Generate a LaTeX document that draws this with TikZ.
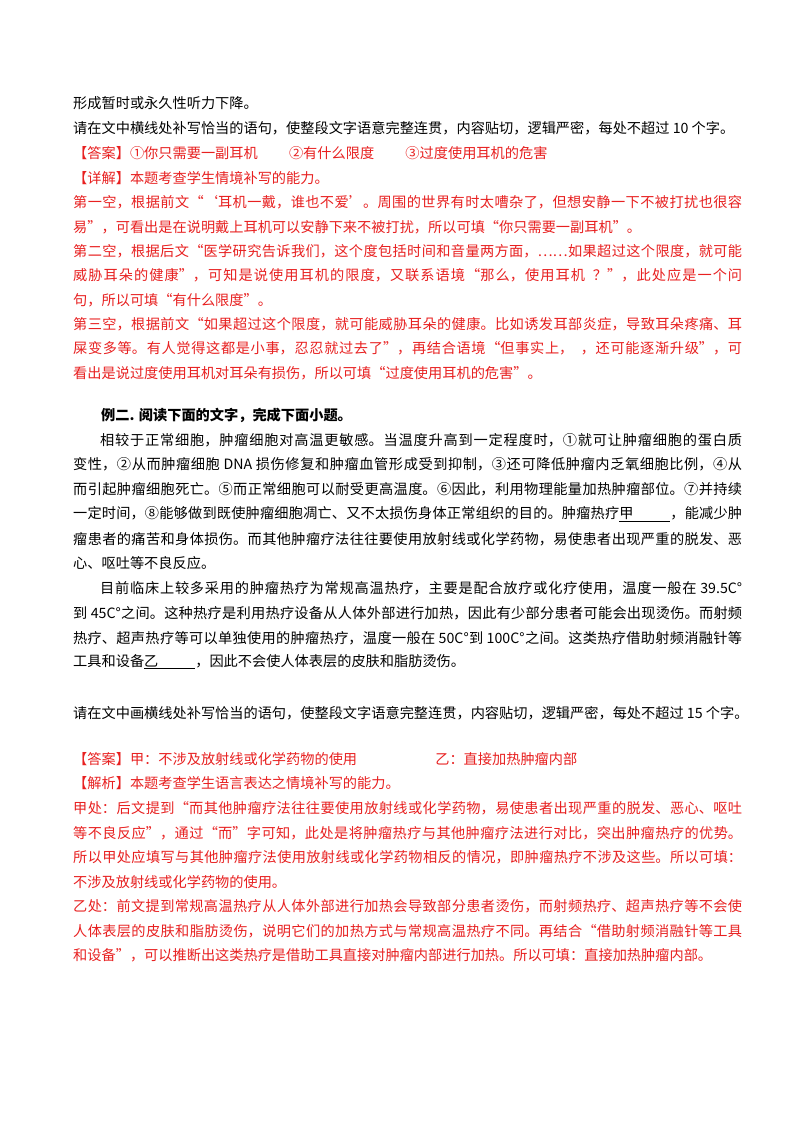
\documentclass[tikz,border=0pt]{standalone}
\usepackage{fontspec}
\setmainfont{Noto Sans CJK SC}
\newfontfamily\cjkb[BoldFont={* Bold}]{Noto Sans CJK SC}
\XeTeXlinebreaklocale "zh"
\XeTeXlinebreakskip=0pt plus 2pt
\definecolor{ansred}{RGB}{232,32,32}
\newcommand\fullline[1]{\parbox{669pt}{\parfillskip=0pt\relax #1}}
\newcommand\fullind[1]{\parbox{642pt}{\parfillskip=0pt\relax #1}}
\newcommand\blank[1]{\underline{#1\hspace{2.6em}}}
\tikzset{ln/.style={anchor=west,inner sep=0pt,font=\fontsize{14.2pt}{16pt}\selectfont},
  rd/.style={ln,text=ansred},
  bk/.style={ln,text=black}}
\begin{document}
\begin{tikzpicture}[x=1pt,y=-1pt]
\useasboundingbox[fill=white] (0,0) rectangle (800,1132);
\node[bk] (l1) at (73,103) {形成暂时或永久性听力下降。};
\node[bk] (l2) at (73,128) {请在文中横线处补写恰当的语句，使整段文字语意完整连贯，内容贴切，逻辑严密，每处不超过 10 个字。};
\node[rd] (l3) at (73,153) {【答案】①你只需要一副耳机\hspace{2.2em}②有什么限度\hspace{2.2em}③过度使用耳机的危害};
\node[rd] (l4) at (73,178) {【详解】本题考查学生情境补写的能力。};
\node[rd] (l5) at (73,202) {\fullline{第一空，根据前文“‘耳机一戴，谁也不爱’。周围的世界有时太嘈杂了，但想安静一下不被打扰也很容}};
\node[rd] (l6) at (73,227) {易”，可看出是在说明戴上耳机可以安静下来不被打扰，所以可填“你只需要一副耳机”。};
\node[rd] (l7) at (73,251) {\fullline{第二空，根据后文“医学研究告诉我们，这个度包括时间和音量两方面，……如果超过这个限度，就可能}};
\node[rd] (l8) at (73,275) {\fullline{威胁耳朵的健康”，可知是说使用耳机的限度，又联系语境“那么，使用耳机\ \ ？”，此处应是一个问}};
\node[rd] (l9) at (73,300) {句，所以可填“有什么限度”。};
\node[rd] (l10) at (73,324) {\fullline{第三空，根据前文“如果超过这个限度，就可能威胁耳朵的健康。比如诱发耳部炎症，导致耳朵疼痛、耳}};
\node[rd] (l11) at (73,348) {\fullline{屎变多等。有人觉得这都是小事，忍忍就过去了”，再结合语境“但事实上，\ \ ，还可能逐渐升级”，可}};
\node[rd] (l12) at (73,373) {看出是说过度使用耳机对耳朵有损伤，所以可填“过度使用耳机的危害”。};
\node[bk,font=\fontsize{14.2pt}{16pt}\selectfont\bfseries] (l13) at (101,415) {例二. 阅读下面的文字，完成下面小题。};
\node[bk] (l14) at (100,440) {\fullind{相较于正常细胞，肿瘤细胞对高温更敏感。当温度升高到一定程度时，①就可让肿瘤细胞的蛋白质}};
\node[bk] (l15) at (73,464) {\fullline{变性，②从而肿瘤细胞 DNA 损伤修复和肿瘤血管形成受到抑制，③还可降低肿瘤内乏氧细胞比例，④从}};
\node[bk] (l16) at (73,489) {\fullline{而引起肿瘤细胞死亡。⑤而正常细胞可以耐受更高温度。⑥因此，利用物理能量加热肿瘤部位。⑦并持续}};
\node[bk] (l17) at (73,514) {\fullline{一定时间，⑧能够做到既使肿瘤细胞凋亡、又不太损伤身体正常组织的目的。肿瘤热疗\blank{甲}，能减少肿}};
\node[bk] (l18) at (73,539) {\fullline{瘤患者的痛苦和身体损伤。而其他肿瘤疗法往往要使用放射线或化学药物，易使患者出现严重的脱发、恶}};
\node[bk] (l19) at (73,563) {心、呕吐等不良反应。};
\node[bk] (l20) at (100,588) {\fullind{目前临床上较多采用的肿瘤热疗为常规高温热疗，主要是配合放疗或化疗使用，温度一般在 39.5C°}};
\node[bk] (l21) at (73,613) {\fullline{到 45C°之间。这种热疗是利用热疗设备从人体外部进行加热，因此有少部分患者可能会出现烫伤。而射频}};
\node[bk] (l22) at (73,638) {\fullline{热疗、超声热疗等可以单独使用的肿瘤热疗，温度一般在 50C°到 100C°之间。这类热疗借助射频消融针等}};
\node[bk] (l23) at (73,662) {工具和设备\blank{乙}，因此不会使人体表层的皮肤和脂肪烫伤。};
\node[bk] (l24) at (73,713) {请在文中画横线处补写恰当的语句，使整段文字语意完整连贯，内容贴切，逻辑严密，每处不超过 15 个字。};
\node[rd] (l25) at (73,759) {【答案】甲：不涉及放射线或化学药物的使用\hspace{5.5em}乙：直接加热肿瘤内部};
\node[rd] (l26) at (73,783) {【解析】本题考查学生语言表达之情境补写的能力。};
\node[rd] (l27) at (73,808) {\fullline{甲处：后文提到“而其他肿瘤疗法往往要使用放射线或化学药物，易使患者出现严重的脱发、恶心、呕吐}};
\node[rd] (l28) at (73,833) {\fullline{等不良反应”，通过“而”字可知，此处是将肿瘤热疗与其他肿瘤疗法进行对比，突出肿瘤热疗的优势。}};
\node[rd] (l29) at (73,857) {\fullline{所以甲处应填写与其他肿瘤疗法使用放射线或化学药物相反的情况，即肿瘤热疗不涉及这些。所以可填：}};
\node[rd] (l30) at (73,882) {不涉及放射线或化学药物的使用。};
\node[rd] (l31) at (73,906) {\fullline{乙处：前文提到常规高温热疗从人体外部进行加热会导致部分患者烫伤，而射频热疗、超声热疗等不会使}};
\node[rd] (l32) at (73,931) {\fullline{人体表层的皮肤和脂肪烫伤，说明它们的加热方式与常规高温热疗不同。再结合“借助射频消融针等工具}};
\node[rd] (l33) at (73,955) {和设备”，可以推断出这类热疗是借助工具直接对肿瘤内部进行加热。所以可填：直接加热肿瘤内部。};
\end{tikzpicture}
\end{document}
